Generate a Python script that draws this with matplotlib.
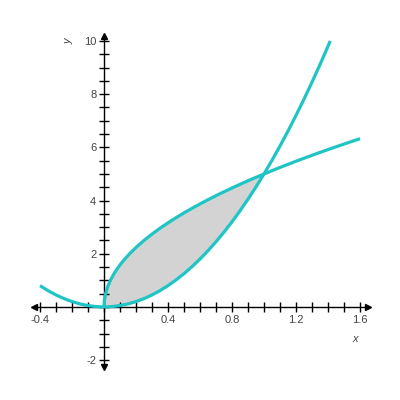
import numpy as np
import matplotlib
matplotlib.use('Agg')
import matplotlib.pyplot as plt
from matplotlib.ticker import FixedLocator

# curve y = 5x^2
par_x = [-0.4, -0.35, -0.3, -0.25, -0.2, -0.15, -0.1, -0.05, 0.0, 0.05, 0.1, 0.15,
         0.2, 0.25, 0.3, 0.35, 0.4, 0.45, 0.5, 0.55, 0.6, 0.65, 0.7, 0.75, 0.8,
         0.85, 0.9, 0.95, 1.0, 1.05, 1.1, 1.15, 1.2, 1.25, 1.3, 1.35, 1.4, 1.414]
par_y = [0.8, 0.6125, 0.45, 0.3125, 0.2, 0.1125, 0.05, 0.0125, 0.0, 0.0125, 0.05, 0.1125,
         0.2, 0.3125, 0.45, 0.6125, 0.8, 1.0125, 1.25, 1.5125, 1.8, 2.1125, 2.45, 2.8125, 3.2,
         3.6125, 4.05, 4.5125, 5.0, 5.5125, 6.05, 6.6125, 7.2, 7.8125, 8.45, 9.1125, 9.8, 10.0]

# curve y = 5*sqrt(x)
root_x = [0.0, 0.0025, 0.01, 0.0225, 0.04, 0.0625, 0.09, 0.1225, 0.16, 0.2025, 0.25,
          0.3025, 0.36, 0.4225, 0.49, 0.5625, 0.64, 0.7225, 0.81, 0.9025, 1.0, 1.1025,
          1.21, 1.3225, 1.44, 1.5625, 1.6]
root_y = [0.0, 0.25, 0.5, 0.75, 1.0, 1.25, 1.5, 1.75, 2.0, 2.25, 2.5, 2.75, 3.0, 3.25,
          3.5, 3.75, 4.0, 4.25, 4.5, 4.75, 5.0, 5.25, 5.5, 5.75, 6.0, 6.25, 6.3246]

x_labels = [-0.4, 0.4, 0.8, 1.2, 1.6]
y_labels = [-2, 2, 4, 6, 8, 10]

teal = '#1fc4c4'
txt = '#444444'
plt.rcParams['font.family'] = ['Liberation Sans', 'DejaVu Sans']

fig = plt.figure(figsize=(4, 4), dpi=100)
ax = fig.add_axes([0, 0, 1, 1])
ax.set_xlim(-0.65, 1.85)
ax.set_ylim(-3.5, 11.54)

# shaded region between the curves on [0, 1]
px, py = np.array(par_x), np.array(par_y)
rx, ry = np.array(root_x), np.array(root_y)
m1 = (rx >= 0) & (rx <= 1)
m2 = (px >= 0) & (px <= 1)
poly_x = np.concatenate([rx[m1], px[m2][::-1]])
poly_y = np.concatenate([ry[m1], py[m2][::-1]])
ax.fill(poly_x, poly_y, color='#d3d3d3', lw=0, zorder=1)

ax.plot(par_x, par_y, color=teal, lw=2.3, solid_capstyle='butt', zorder=3)
ax.plot(root_x, root_y, color=teal, lw=2.3, solid_capstyle='butt', zorder=3)

# axes through the origin
for s in ['top', 'right']:
    ax.spines[s].set_visible(False)
ax.spines['left'].set_position(('data', 0))
ax.spines['bottom'].set_position(('data', 0))
ax.spines['left'].set_bounds(-2.26, 10.2)
ax.spines['bottom'].set_bounds(-0.44, 1.65)
for s in ['left', 'bottom']:
    ax.spines[s].set_linewidth(1.0)
    ax.spines[s].set_zorder(2)

ax.xaxis.set_major_locator(FixedLocator(x_labels))
ax.yaxis.set_major_locator(FixedLocator(y_labels))
ax.xaxis.set_minor_locator(FixedLocator(np.round(np.arange(-0.4, 1.61, 0.1), 2)))
ax.yaxis.set_minor_locator(FixedLocator(np.arange(-2, 10.01, 0.5)))
ax.set_xticklabels([f'{v:g}' for v in x_labels])
ax.set_yticklabels([f'{v:g}' for v in y_labels])
ax.tick_params(which='both', direction='inout', length=7, width=1.0, color='black',
               labelsize=8, labelcolor=txt, pad=2)

# arrow heads
ax.plot(1.65, 0, marker='>', color='black', ms=5, clip_on=False)
ax.plot(-0.44, 0, marker='<', color='black', ms=5, clip_on=False)
ax.plot(0, 10.2, marker='^', color='black', ms=5, clip_on=False)
ax.plot(0, -2.26, marker='v', color='black', ms=5, clip_on=False)

ax.text(1.57, -1.2, 'x', fontsize=8, style='italic', color=txt, ha='center', va='center')
ax.text(-0.22, 10.0, 'y', fontsize=8, style='italic', color=txt, rotation=90,
        ha='center', va='center')

fig.savefig('out.png', dpi=100)
